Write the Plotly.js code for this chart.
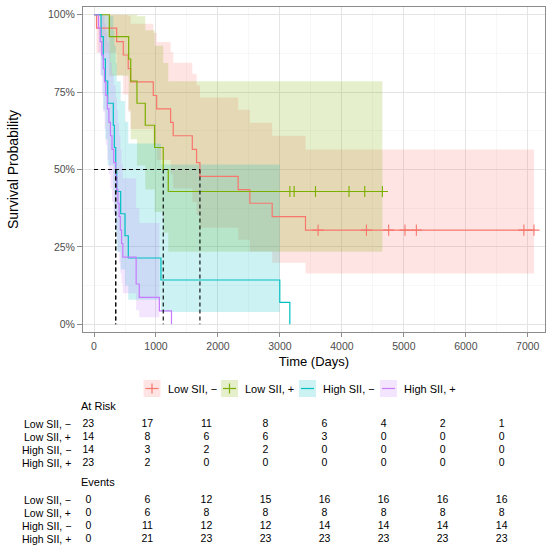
<!DOCTYPE html>
<html><head><meta charset="utf-8">
<script src="https://cdn.plot.ly/plotly-3.0.1.min.js"></script>
<style>html,body{margin:0;padding:0;background:#fff}#chart{width:550px;height:548px}</style>
</head><body><div id="chart"></div>
<script>
// ---------------- data ----------------
const groups = ["Low SII, \u2212", "Low SII, +", "High SII, \u2212", "High SII, +"];
const colors = ["#F8766D", "#7CAE00", "#00BFC4", "#C77CFF"];
const fills  = ["rgba(248,118,109,0.2)", "rgba(124,174,0,0.2)", "rgba(0,191,196,0.2)", "rgba(199,124,255,0.2)"];

// Low SII, −
const lowNegTime  = [0, 40, 365, 472, 552, 590, 956, 1011, 1236, 1278, 1586, 1655, 1709, 2326, 2515, 2875, 3413, 7100];
const lowNegSurv  = [1, .957, .913, .870, .826, .783, .739, .696, .652, .609, .565, .522, .478, .435, .391, .348, .304, .304];
const lowNegLower = [1, .877, .805, .742, .685, .631, .580, .531, .484, .439, .395, .353, .312, .273, .235, .199, .164, .164];
const lowNegUpper = [1, 1, 1, 1, .997, .971, .942, .912, .879, .845, .809, .772, .733, .693, .651, .609, .565, .565];
const lowNegCens  = [3616, 4396, 4755, 5018, 5202, 6937, 7100];

// Low SII, +
const lowPosTime  = [0, 247, 559, 592, 693, 827, 978, 1117, 1198, 4654];
const lowPosSurv  = [1, .929, .857, .786, .714, .643, .571, .500, .429, .429];
const lowPosLower = [1, .803, .692, .598, .513, .435, .363, .296, .234, .234];
const lowPosUpper = [1, 1, 1, 1, .995, .950, .900, .844, .785, .785];
const lowPosCens  = [3160, 3229, 3574, 4115, 4369, 4654];

// High SII, −
const highNegTime  = [0, 113, 150, 183, 221, 311, 328, 350, 366, 430, 500, 553, 1080, 2998, 3160];
const highNegSurv  = [1, .929, .857, .786, .714, .643, .571, .500, .429, .357, .286, .214, .143, .071, 0];
const highNegLower = [1, .803, .692, .598, .513, .435, .363, .296, .234, .177, .125, .079, .040, .011];
const highNegUpper = [1, 1, 1, 1, .995, .950, .900, .844, .785, .721, .654, .584, .516, .472];
const highNegCens  = [];

// High SII, +
const highPosTime  = [0, 70, 100, 125, 150, 170, 190, 215, 240, 265, 290, 318, 350, 367, 385, 405, 425, 445, 465, 680, 730, 1055, 1250];
const highPosSurv  = [1, .957, .913, .870, .826, .783, .739, .696, .652, .609, .565, .522, .478, .435, .391, .348, .304, .261, .217, .130, .087, .043, 0];
const highPosLower = [1, .877, .805, .742, .685, .631, .580, .531, .484, .439, .395, .353, .312, .273, .235, .199, .164, .131, .100, .045, .023, .006];
const highPosUpper = [1, 1, 1, 1, .997, .971, .942, .912, .879, .845, .809, .772, .733, .693, .651, .609, .565, .519, .472, .375, .327, .296];
const highPosCens  = [];

// risk table
const tableTimes = [0, 1000, 2000, 3000, 4000, 5000, 6000, 7000];
const atRiskLowNeg  = [23, 17, 11, 8, 6, 4, 2, 1];
const atRiskLowPos  = [14, 8, 6, 6, 3, 0, 0, 0];
const atRiskHighNeg = [14, 3, 2, 2, 0, 0, 0, 0];
const atRiskHighPos = [23, 2, 0, 0, 0, 0, 0, 0];
const eventsLowNeg  = [0, 6, 12, 15, 16, 16, 16, 16];
const eventsLowPos  = [0, 6, 8, 8, 8, 8, 8, 8];
const eventsHighNeg = [0, 11, 12, 12, 14, 14, 14, 14];
const eventsHighPos = [0, 21, 23, 23, 23, 23, 23, 23];

// ---------------- build ----------------
const curves = [
  {T: lowNegTime,  S: lowNegSurv,  lo: lowNegLower,  up: lowNegUpper,  c: lowNegCens},
  {T: lowPosTime,  S: lowPosSurv,  lo: lowPosLower,  up: lowPosUpper,  c: lowPosCens},
  {T: highNegTime, S: highNegSurv, lo: highNegLower, up: highNegUpper, c: highNegCens},
  {T: highPosTime, S: highPosSurv, lo: highPosLower, up: highPosUpper, c: highPosCens}
];
const atRisk = [atRiskLowNeg, atRiskLowPos, atRiskHighNeg, atRiskHighPos];
const events = [eventsLowNeg, eventsLowPos, eventsHighNeg, eventsHighPos];

const W = 550, H = 548;
const PX = v => v / W, PY = v => (H - v) / H;
const FONT = "Liberation Sans, Arial, Helvetica, sans-serif";

const traces = [];
curves.forEach((cv, i) => {
  const bt = cv.T.slice(0, cv.lo.length);
  traces.push({x: bt, y: cv.lo, mode: 'lines', line: {width: 0, shape: 'hv'}, hoverinfo: 'skip', showlegend: false});
  traces.push({x: bt, y: cv.up, mode: 'lines', line: {width: 0, shape: 'hv'}, fill: 'tonexty', fillcolor: fills[i], hoverinfo: 'skip', showlegend: false});
});
function survAt(cv, t) { let v = cv.S[0]; for (let k = 0; k < cv.T.length; k++) if (cv.T[k] <= t) v = cv.S[k]; return v; }
curves.forEach((cv, i) => {
  traces.push({x: cv.T, y: cv.S, mode: 'lines', line: {color: colors[i], width: 1.2, shape: 'hv'}, showlegend: false});
  if (cv.c.length) traces.push({x: cv.c, y: cv.c.map(t => survAt(cv, t)), mode: 'markers',
    marker: {symbol: 'cross-thin', size: 8, color: colors[i], line: {color: colors[i], width: 1.1}}, showlegend: false});
});
// median lines
const medians = curves.map(cv => { for (let k = 0; k < cv.T.length; k++) if (cv.S[k] <= 0.5) return cv.T[k]; return null; });
const mx = [0, Math.max(...medians)], my = [0.5, 0.5];
medians.forEach(m => { mx.push(null, m, m); my.push(null, 0.5, 0); });
traces.push({x: mx, y: my, mode: 'lines', line: {color: '#000', width: 1.1, dash: '4px,3px'}, showlegend: false});

// risk table text
atRisk.forEach((row, i) => traces.push({x: tableTimes, y: tableTimes.map(() => i), text: row.map(String), mode: 'text',
  textfont: {family: FONT, size: 10.5, color: '#000'}, xaxis: 'x2', yaxis: 'y2', showlegend: false}));
events.forEach((row, i) => traces.push({x: tableTimes, y: tableTimes.map(() => i), text: row.map(String), mode: 'text',
  textfont: {family: FONT, size: 10.5, color: '#000'}, xaxis: 'x2', yaxis: 'y3', showlegend: false}));

const annotations = [], shapes = [];
groups.forEach((g, i) => {
  ['y2', 'y3'].forEach(ax => annotations.push({xref: 'paper', yref: ax, x: PX(72.5), y: i, xanchor: 'right', yanchor: 'middle',
    text: g, showarrow: false, font: {family: FONT, size: 10.5, color: '#000'}}));
});
annotations.push({xref: 'paper', yref: 'paper', x: PX(79), y: PY(406), xanchor: 'left', yanchor: 'middle', text: 'At Risk', showarrow: false, font: {family: FONT, size: 11, color: '#000'}});
annotations.push({xref: 'paper', yref: 'paper', x: PX(79), y: PY(482), xanchor: 'left', yanchor: 'middle', text: 'Events', showarrow: false, font: {family: FONT, size: 11, color: '#000'}});

// legend
const keyLeft = [143.5, 221, 299, 380], keyTop = 380, keySize = 17, legY = 388.5;
groups.forEach((g, i) => {
  const x0 = keyLeft[i], cx = x0 + keySize / 2;
  shapes.push({type: 'rect', xref: 'paper', yref: 'paper', x0: PX(x0), x1: PX(x0 + keySize), y0: PY(keyTop + keySize), y1: PY(keyTop), fillcolor: fills[i], line: {width: 0}});
  shapes.push({type: 'line', xref: 'paper', yref: 'paper', x0: PX(cx - 6.5), x1: PX(cx + 6.5), y0: PY(legY), y1: PY(legY), line: {color: colors[i], width: 1.2}});
  if (curves[i].c.length) shapes.push({type: 'line', xref: 'paper', yref: 'paper', x0: PX(cx), x1: PX(cx), y0: PY(legY - 5), y1: PY(legY + 5), line: {color: colors[i], width: 1.2}});
  annotations.push({xref: 'paper', yref: 'paper', x: PX(x0 + keySize + 5), y: PY(legY), xanchor: 'left', yanchor: 'middle', text: g, showarrow: false, font: {family: FONT, size: 11, color: '#000'}});
});

const axisCommon = {showline: true, mirror: true, linecolor: '#8c8c8c', linewidth: 1, ticks: 'outside', ticklen: 4, tickwidth: 1, tickcolor: '#8c8c8c',
  showgrid: true, gridcolor: '#e4e4e4', gridwidth: 1, zeroline: false, tickfont: {family: FONT, size: 10.5, color: '#4d4d4d'}};

const layout = {
  width: W, height: H, margin: {l: 0, r: 0, t: 0, b: 0}, paper_bgcolor: '#fff', plot_bgcolor: '#fff', showlegend: false,
  font: {family: FONT},
  xaxis: Object.assign({}, axisCommon, {domain: [PX(83), PX(545)], range: [-178, 7278], tick0: 0, dtick: 1000, anchor: 'y',
    minor: {tick0: 0, dtick: 500, showgrid: true, gridcolor: '#f1f1f1', gridwidth: 0.6, ticks: ''},
    title: {text: 'Time (Days)', font: {family: FONT, size: 13, color: '#000'}, standoff: 6}}),
  yaxis: Object.assign({}, axisCommon, {domain: [PY(332), PY(7)], range: [-0.025, 1.025], tick0: 0, dtick: 0.25, tickformat: '.0%', anchor: 'x',
    ticklen: 5, minor: {tick0: 0, dtick: 0.125, showgrid: true, gridcolor: '#f1f1f1', gridwidth: 0.6, ticks: ''},
    title: {text: 'Survival Probability', font: {family: FONT, size: 14, color: '#000'}, standoff: 26}}),
  xaxis2: {domain: [0, 1], range: [-1495.2, 7817.9], visible: false, anchor: 'y2'},
  yaxis2: {domain: [PY(470), PY(417.5)], range: [3.5, -0.5], visible: false, anchor: 'x2'},
  yaxis3: {domain: [PY(545.85), PY(493.45)], range: [3.5, -0.5], visible: false, anchor: 'x2'},
  annotations: annotations, shapes: shapes
};
Plotly.newPlot('chart', traces, layout, {displayModeBar: false, staticPlot: true});
</script></body></html>
